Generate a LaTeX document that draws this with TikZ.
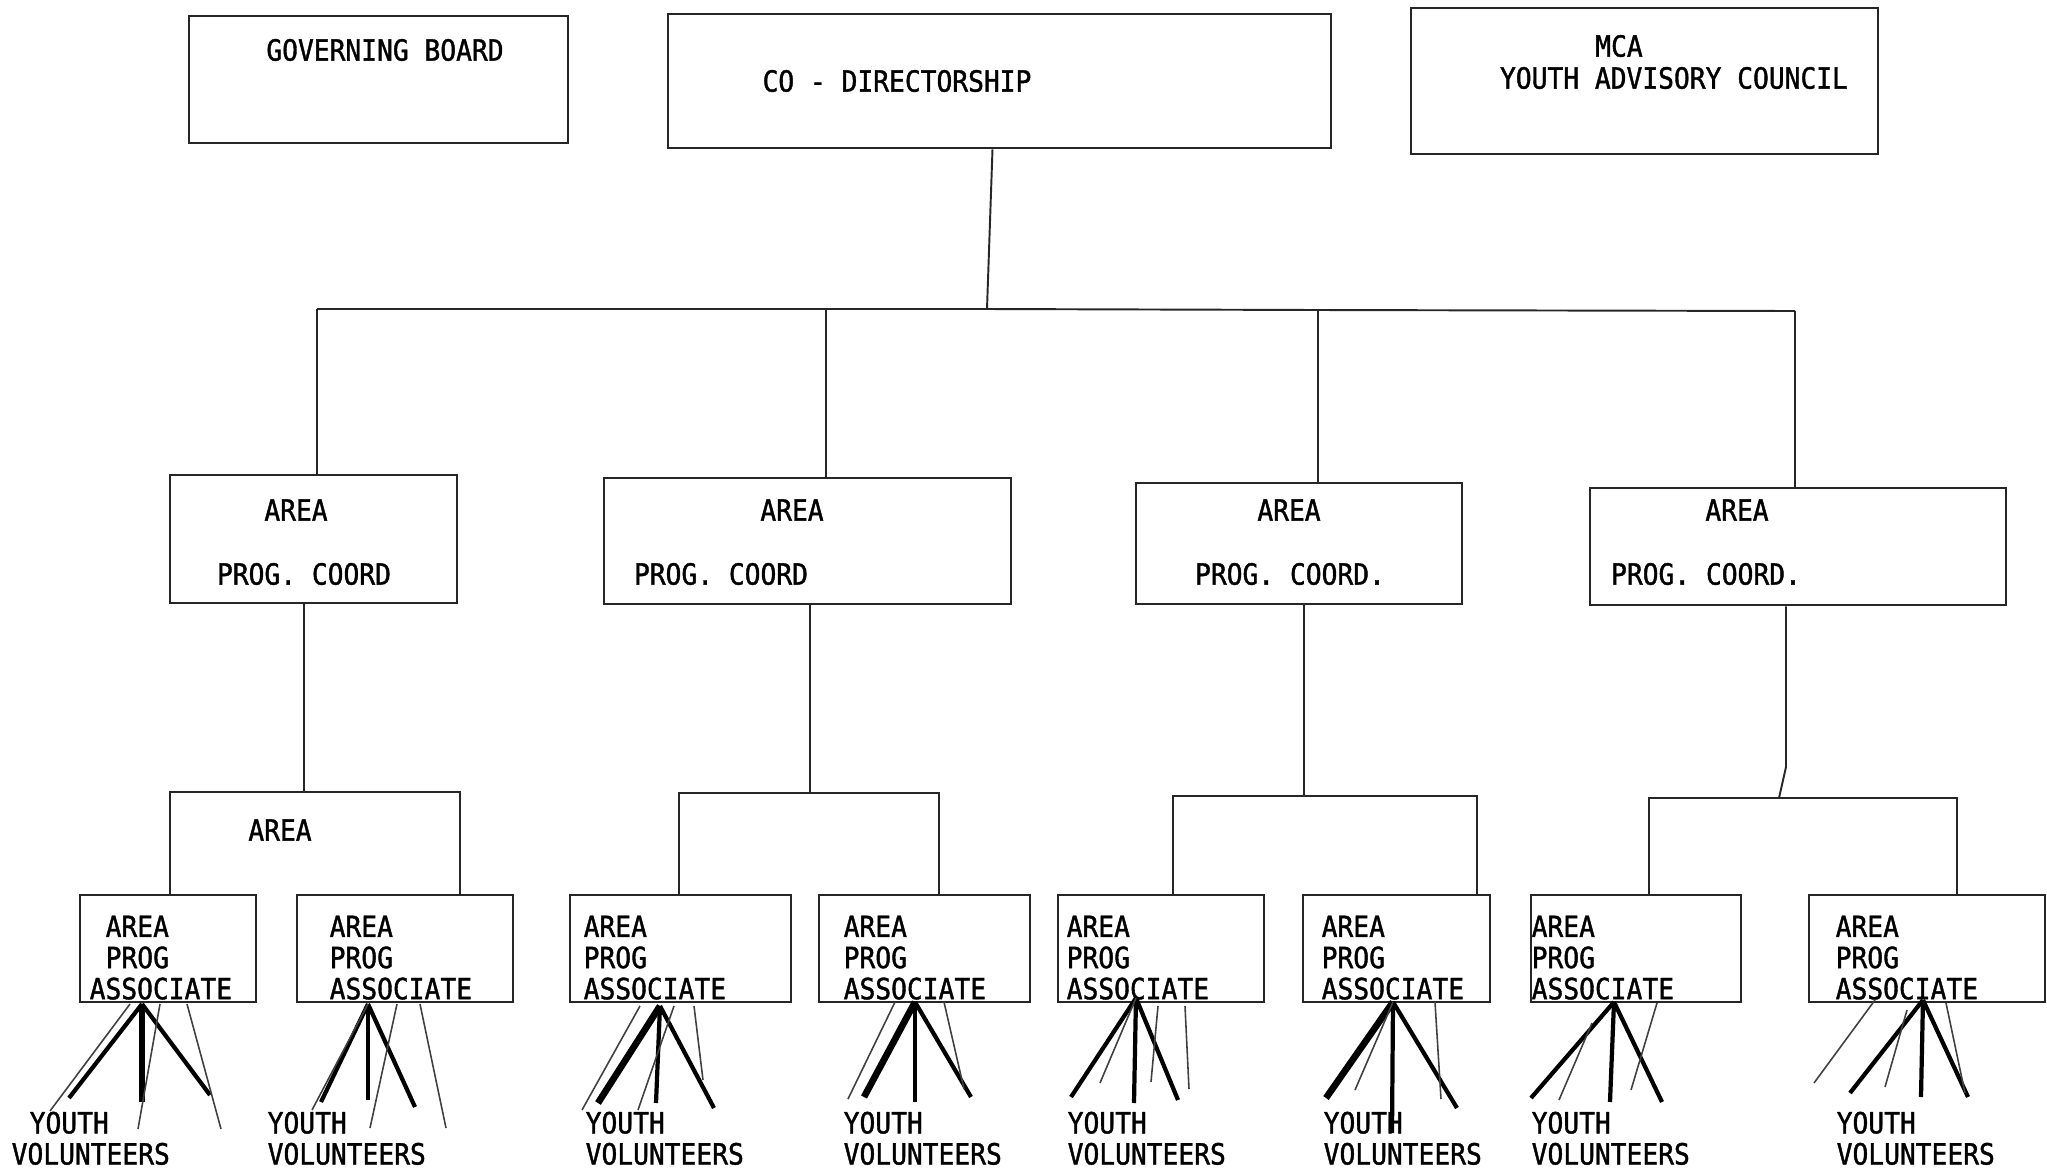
\documentclass[tikz,border=0pt]{standalone}
\usepackage{fontspec}
\newfontfamily\tw[FakeStretch=0.9,FakeBold=1.3]{DejaVu Sans Mono}
\begin{document}
\begin{tikzpicture}[x=0.01cm,y=-0.01cm,
  box/.style={draw=black!85, line width=0.7pt, inner sep=0pt, rectangle},
  conn/.style={draw=black!85, line width=0.55pt},
  lbl/.style={inner sep=0pt, text=black, font=\tw\fontsize{8.3pt}{8.85pt}\selectfont},
  mlbl/.style={lbl, align=left, anchor=north west},
  fanthick/.style={draw=black, line width=1.2pt},
  fanheavy/.style={draw=black, line width=1.9pt},
  fanthin/.style={draw=black!75, line width=0.45pt}]
\useasboundingbox (0,0) rectangle (2047,1169);

% top row
\node[box, minimum width=3.79cm, minimum height=1.27cm] (gb) at (378.5,79.5) {};
\node[box, minimum width=6.63cm, minimum height=1.34cm] (cd) at (999.5,81) {};
\node[box, minimum width=4.67cm, minimum height=1.46cm] (mca) at (1644.5,81) {};
\node[lbl] (tgb) at (385,50) {GOVERNING BOARD};
\node[lbl] (tcd) at (897,81) {CO - DIRECTORSHIP};
\node[lbl] (tmca) at (1619,46) {MCA};
\node[lbl] (tyac) at (1674,78) {YOUTH ADVISORY COUNCIL};

% coordinators
\node[box, minimum width=2.87cm, minimum height=1.28cm] (c1) at (313.5,539) {};
\node[box, minimum width=4.07cm, minimum height=1.26cm] (c2) at (807.5,541) {};
\node[box, minimum width=3.26cm, minimum height=1.21cm] (c3) at (1299,543.5) {};
\node[box, minimum width=4.16cm, minimum height=1.17cm] (c4) at (1798,546.5) {};
\node[lbl] (tc1a) at (296,510) {AREA};
\node[lbl] (tc2a) at (792,510) {AREA};
\node[lbl] (tc3a) at (1289,510) {AREA};
\node[lbl] (tc4a) at (1737,510) {AREA};
\node[lbl] (tc1b) at (304,574) {PROG. COORD};
\node[lbl] (tc2b) at (721,574) {PROG. COORD};
\node[lbl] (tc3b) at (1290,574) {PROG. COORD.};
\node[lbl] (tc4b) at (1706,574) {PROG. COORD.};

% associates
\node[box, minimum width=1.76cm, minimum height=1.07cm] (a1) at (168,948.5) {};
\node[box, minimum width=2.16cm, minimum height=1.07cm] (a2) at (405,948.5) {};
\node[box, minimum width=2.21cm, minimum height=1.07cm] (a3) at (680.5,948.5) {};
\node[box, minimum width=2.11cm, minimum height=1.07cm] (a4) at (924.5,948.5) {};
\node[box, minimum width=2.06cm, minimum height=1.07cm] (a5) at (1161,948.5) {};
\node[box, minimum width=1.87cm, minimum height=1.07cm] (a6) at (1396.5,948.5) {};
\node[box, minimum width=2.10cm, minimum height=1.07cm] (a7) at (1636,948.5) {};
\node[box, minimum width=2.36cm, minimum height=1.07cm] (a8) at (1927,948.5) {};
\node[mlbl] (ta1) at (105,915) {AREA\\PROG\\\hspace*{-0.16cm}ASSOCIATE};
\node[mlbl] (ta2) at (329,915) {AREA\\PROG\\ASSOCIATE};
\node[mlbl] (ta3) at (583,915) {AREA\\PROG\\ASSOCIATE};
\node[mlbl] (ta4) at (843,915) {AREA\\PROG\\ASSOCIATE};
\node[mlbl] (ta5) at (1066,915) {AREA\\PROG\\ASSOCIATE};
\node[mlbl] (ta6) at (1321,915) {AREA\\PROG\\ASSOCIATE};
\node[mlbl] (ta7) at (1531,915) {AREA\\PROG\\ASSOCIATE};
\node[mlbl] (ta8) at (1835,915) {AREA\\PROG\\ASSOCIATE};

% youth volunteers
\node[mlbl] (ty1) at (11,1111) {\hspace*{0.18cm}YOUTH\\VOLUNTEERS};
\node[mlbl] (ty2) at (267,1111) {YOUTH\\VOLUNTEERS};
\node[mlbl] (ty3) at (585,1111) {YOUTH\\VOLUNTEERS};
\node[mlbl] (ty4) at (843,1111) {YOUTH\\VOLUNTEERS};
\node[mlbl] (ty5) at (1067,1111) {YOUTH\\VOLUNTEERS};
\node[mlbl] (ty6) at (1323,1111) {YOUTH\\VOLUNTEERS};
\node[mlbl] (ty7) at (1531,1111) {YOUTH\\VOLUNTEERS};
\node[mlbl] (ty8) at (1836,1111) {YOUTH\\VOLUNTEERS};

% bus
\coordinate (bus) at (987,309);
\coordinate (busL) at (317,309);
\coordinate (j2) at (826,309);
\coordinate (j3) at (1318,310);
\coordinate (busR) at (1795,311);
\draw[conn] ([xshift=-0.07cm]cd.south) -- (bus);
\draw[conn] (busL) -- (j2) -- (bus) -- (j3) -- (busR);
\draw[conn] (busL) -- (c1.north -| busL);
\draw[conn] (j2) -- (c2.north -| j2);
\draw[conn] (j3) -- (c3.north -| j3);
\draw[conn] (busR) -- (c4.north -| busR);

% coordinator drops and brackets
\coordinate (b1) at (304,792);
\coordinate (b1l) at (170,792);
\coordinate (b1r) at (460,792);
\node[lbl] (tb1) at (280,830) {AREA};
\draw[conn] (c1.south -| b1) -- (b1);
\draw[conn] (a1.north -| b1l) -- (b1l) -- (b1r) -- (a2.north -| b1r);

\coordinate (b2) at (810,793);
\coordinate (b2l) at (679,793);
\coordinate (b2r) at (939,793);
\draw[conn] (c2.south -| b2) -- (b2);
\draw[conn] (a3.north -| b2l) -- (b2l) -- (b2r) -- (a4.north -| b2r);

\coordinate (b3) at (1304,796);
\coordinate (b3l) at (1173,796);
\coordinate (b3r) at (1477,796);
\draw[conn] (c3.south -| b3) -- (b3);
\draw[conn] (a5.north -| b3l) -- (b3l) -- (b3r) -- (a6.north -| b3r);

\coordinate (k4) at (1786,767);
\coordinate (b4) at (1779,798);
\coordinate (b4l) at (1649,798);
\coordinate (b4r) at (1957,798);
\draw[conn] (c4.south -| k4) -- (k4) -- (b4);
\draw[conn] (a7.north -| b4l) -- (b4l) -- (b4r) -- (a8.north -| b4r);

% fans
\coordinate (p1) at (142,1004);
\coordinate (p2) at (368,1004);
\coordinate (p3) at (660,1006);
\coordinate (p4) at (915,1002);
\coordinate (p5) at (1136,998);
\coordinate (p6) at (1393,1002);
\coordinate (p7) at (1614,1002);
\coordinate (p8) at (1923,1000);

\draw[fanthick] (p1) -- ++(-73,94);
\draw[fanheavy] (p1) -- ++(0,98);
\draw[fanthick] (p1) -- ++(68,91);
\draw[fanthin] ([shift={(-12,0)}]p1) -- ++(-80,107);
\draw[fanthin] ([shift={(18,0)}]p1) -- ++(-22,125);
\draw[fanthin] ([shift={(45,0)}]p1) -- ++(34,125);

\draw[fanthick] (p2) -- ++(-47,98);
\draw[fanthick] (p2) -- ++(0,96);
\draw[fanthick] (p2) -- ++(47,103);
\draw[fanthin] (p2) -- ++(-56,106);
\draw[fanthin] ([shift={(29,0)}]p2) -- ++(-27,124);
\draw[fanthin] ([shift={(52,0)}]p2) -- ++(26,124);

\draw[fanheavy] (p3) -- ++(-62,97);
\draw[fanthick] (p3) -- ++(-4,97);
\draw[fanthick] (p3) -- ++(54,102);
\draw[fanthin] ([shift={(-20,0)}]p3) -- ++(-58,104);
\draw[fanthin] ([shift={(14,0)}]p3) -- ++(-36,104);
\draw[fanthin] ([shift={(34,0)}]p3) -- ++(9,74);

\draw[fanheavy] (p4) -- ++(-51,95);
\draw[fanthick] (p4) -- ++(0,100);
\draw[fanthick] (p4) -- ++(56,95);
\draw[fanthin] ([shift={(-20,0)}]p4) -- ++(-47,97);
\draw[fanthin] ([shift={(29,0)}]p4) -- ++(20,87);

\draw[fanthick] (p5) -- ++(-65,99);
\draw[fanthick] (p5) -- ++(-2,105);
\draw[fanthick] (p5) -- ++(42,102);
\draw[fanthin] (p5) -- ++(-36,85);
\draw[fanthin] ([shift={(22,8)}]p5) -- ++(-7,76);
\draw[fanthin] ([shift={(49,8)}]p5) -- ++(4,83);

\draw[fanheavy] (p6) -- ++(-67,96);
\draw[fanthick] (p6) -- ++(-1,131);
\draw[fanthick] (p6) -- ++(64,106);
\draw[fanthin] (p6) -- ++(-38,88);
\draw[fanthin] ([shift={(42,0)}]p6) -- ++(6,97);

\draw[fanthick] (p7) -- ++(-83,96);
\draw[fanthick] (p7) -- ++(-4,100);
\draw[fanthick] (p7) -- ++(48,100);
\draw[fanthin] ([shift={(-22,21)}]p7) -- ++(-33,77);
\draw[fanthin] ([shift={(43,1)}]p7) -- ++(-26,87);

\draw[fanthick] (p8) -- ++(-73,93);
\draw[fanthick] (p8) -- ++(-2,97);
\draw[fanthick] (p8) -- ++(45,97);
\draw[fanthin] ([shift={(-48,0)}]p8) -- ++(-61,83);
\draw[fanthin] ([shift={(-16,10)}]p8) -- ++(-22,77);
\draw[fanthin] ([shift={(23,3)}]p8) -- ++(19,90);
\end{tikzpicture}
\end{document}
